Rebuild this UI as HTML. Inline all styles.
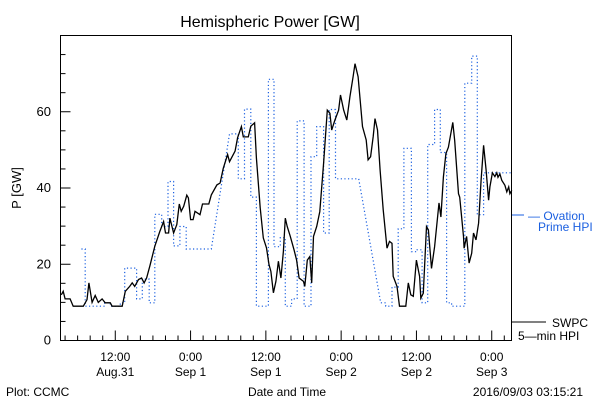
<!DOCTYPE html>
<html><head><meta charset="utf-8"><style>
body{margin:0;background:#fff;}
svg{display:block;font-family:"Liberation Sans",sans-serif;}
</style></head><body>
<svg id="chart" width="600" height="400" viewBox="0 0 600 400" xmlns="http://www.w3.org/2000/svg">
<rect width="600" height="400" fill="#fff"/>
<text x="270" y="27" font-size="16" text-anchor="middle">Hemispheric Power [GW]</text>
<text transform="translate(21,188) rotate(-90)" font-size="13" text-anchor="middle">P [GW]</text>
<text x="6" y="396" font-size="12">Plot: CCMC</text>
<text x="287" y="396" font-size="12" text-anchor="middle">Date and Time</text>
<text x="583" y="396" font-size="12" text-anchor="end">2016/09/03 03:15:21</text>
<g>
<text x="528" y="220" font-size="12" fill="#1a5fe0">— Ovation</text>
<text x="538" y="231" font-size="12" fill="#1a5fe0">Prime HPI</text>
<line x1="512" y1="215" x2="524" y2="215" stroke="#1a5fe0" stroke-width="1"/>
<line x1="512" y1="322" x2="546" y2="322" stroke="#000" stroke-width="1"/>
<text x="552" y="327" font-size="12">SWPC</text>
<text x="518" y="340" font-size="12">5—min HPI</text>
</g>
<g id="axes"></g>
<g id="series"></g>
<rect x="60.5" y="35.5" width="451" height="305" fill="none" stroke="#000" stroke-width="1"/>
</svg>
<script>
const yTicks = [0, 20, 40, 60];
const xTickHours = [-12, 0, 12, 24, 36, 48];
const xTickTime = ["12:00", "0:00", "12:00", "0:00", "12:00", "0:00"];
const xTickDate = ["Aug.31", "Sep 1", "Sep 1", "Sep 2", "Sep 2", "Sep 3"];
const swpcHours = [-20.6,-20.3,-20.0,-19.2,-18.7,-17.1,-16.5,-16.2,-15.7,-15.2,-14.7,-14.1,-13.6,-12.8,-12.5,-10.9,-10.4,-9.7,-9.3,-8.9,-8.3,-7.8,-7.4,-7.0,-6.5,-5.7,-4.9,-4.3,-4.0,-3.5,-3.3,-2.7,-2.2,-1.8,-1.5,-1.1,-0.6,-0.35,0.0,0.4,0.7,1.5,1.9,2.9,3.3,4.2,4.7,5.2,5.9,6.2,7.1,7.5,8.1,8.4,9.2,9.6,10.2,10.5,11.1,11.6,12.1,12.5,12.8,13.2,13.6,14.0,14.4,14.8,15.1,15.4,15.9,16.5,16.9,17.3,18.0,18.2,18.6,19.0,19.3,19.6,20.1,20.6,21.2,21.8,22.2,22.5,23.0,23.6,23.9,24.4,24.9,25.4,25.9,26.2,26.7,27.4,28.0,28.3,28.7,29.1,29.4,29.8,30.2,30.7,31.3,31.7,32.1,32.3,32.9,33.3,34.3,34.7,35.1,35.5,36.0,36.5,36.7,37.1,37.6,37.9,38.4,38.9,39.6,39.9,40.3,40.7,41.1,41.8,42.1,42.7,42.9,43.5,43.6,44.0,44.4,44.8,45.1,45.5,45.9,46.3,46.7,47.1,47.5,47.7,48.1,48.5,48.8,49.0,49.3,49.6,50.1,50.4,50.7,50.9,51.2];
const swpcValues = [12.0,12.9,10.9,10.9,9.0,9.0,10.7,15.1,10.0,11.8,10.0,10.9,9.9,9.9,9.0,9.0,12.9,14.2,15.1,14.2,16.0,16.4,15.1,16.4,19.5,24.7,28.6,31.2,28.2,28.2,32.1,28.2,30.4,35.8,33.9,35.2,38.1,37.4,31.7,31.7,33.9,33.0,35.8,35.8,38.2,40.8,41.3,45.1,48.8,46.9,49.7,53.2,56.1,53.4,53.4,56.2,57.1,47.9,34.8,26.9,24.3,19.9,18.1,12.5,15.5,20.8,16.4,23.4,32.1,29.9,27.3,23.7,21.1,16.4,15.5,14.2,21.1,22.0,15.1,27.3,29.9,33.8,46.5,60.4,59.6,55.2,57.8,60.4,64.4,60.4,57.8,63.9,69.2,72.6,69.2,56.1,52.6,47.4,48.2,53.5,58.2,55.2,44.7,34.3,24.2,26.0,25.5,16.8,14.2,9.0,9.0,15.1,12.0,11.6,21.1,16.8,11.1,12.4,29.9,29.0,18.9,24.6,36.1,32.4,42.9,49.0,50.7,57.2,52.4,38.5,37.6,27.3,24.2,27.3,20.3,22.9,28.2,26.4,30.8,42.1,51.2,44.7,36.8,40.3,44.0,43.0,44.0,42.8,43.7,42.0,40.7,39.0,40.3,38.5,39.4];
const ovHours = [-17.4,-16.8,-16.8,-13.7,-13.7,-12.8,-12.8,-11.2,-11.2,-10.5,-10.5,-8.6,-8.6,-7.7,-7.7,-6.6,-6.6,-5.7,-5.7,-4.6,-4.6,-3.6,-3.6,-2.7,-2.7,-1.7,-1.7,-0.7,-0.7,3.3,6.2,7.6,7.6,8.6,8.6,9.6,9.6,10.5,10.5,12.4,12.4,13.3,13.3,14.3,14.3,15.1,15.1,16.1,16.1,17.0,17.0,18.1,18.1,19.2,19.2,20.1,20.1,21.2,21.2,22.1,22.1,23.1,23.1,26.8,30.3,31.1,31.1,32.1,32.1,33.1,33.1,34.0,34.0,35.2,35.2,36.1,36.1,36.9,36.9,37.8,37.8,38.9,38.9,39.8,39.8,40.8,40.8,41.6,41.6,43.7,43.7,44.8,44.8,45.7,45.7,46.7,46.7,51.2];
const ovValues = [24,24,9,9,9.9,9.9,9,9,9.9,9.9,19,19,10.9,10.9,16.1,16.1,9.9,9.9,33.1,33.1,29.9,29.9,41.7,41.7,24.8,24.8,29.9,29.9,24,24,54.2,54.2,42.4,42.4,60.7,60.7,37.6,37.6,9,9,68.5,68.5,24.6,24.6,27,27,9,9,10.9,10.9,57.6,57.6,9,9,48.2,48.2,56.1,56.1,28.2,28.2,60.6,60.6,42.4,42.4,9.9,9.9,9,9,14,14,29.3,29.3,50.4,50.4,23.3,23.3,23.8,23.8,9.9,9.9,51.4,51.4,60.6,60.6,49.3,49.3,9.9,9.9,9,9,67.5,67.5,74.6,74.6,33,33,44,44];

const X0 = 60.5, X1 = 511.5, Y0 = 340.5, Y1 = 35.5;
const HMIN = -20.73, HMAX = 51.15, VMIN = 0, VMAX = 80;
function xScale(h){ return X0 + (h - HMIN) / (HMAX - HMIN) * (X1 - X0); }
function yScale(v){ return Y0 - (v - VMIN) / (VMAX - VMIN) * (Y0 - Y1); }
const NS = "http://www.w3.org/2000/svg";
const axes = document.getElementById('axes');
const series = document.getElementById('series');
function mk(tag, attrs, parent){ const e = document.createElementNS(NS, tag); for (const k in attrs) e.setAttribute(k, attrs[k]); parent.appendChild(e); return e; }

for (let v = 0; v <= 75; v += 5) {
  const major = v % 20 === 0;
  const t = mk('line', {x1: X0, x2: X0 + (major ? 10 : 5), y1: yScale(v), y2: yScale(v), stroke: '#000'}, axes);
  
  
}
yTicks.forEach(v => {
  const t = mk('text', {x: 51, y: yScale(v) + 4, 'font-size': 13, 'text-anchor': 'end'}, axes);
  t.textContent = String(v);
  
  
});
for (let h = -20; h <= 50; h += 2) {
  const major = h % 12 === 0;
  const t = mk('line', {x1: xScale(h), x2: xScale(h), y1: Y0, y2: Y0 - (major ? 10 : 5), stroke: '#000'}, axes);
  
  
}
xTickHours.forEach((h, i) => {
  const a = mk('text', {x: xScale(h), y: 361, 'font-size': 12, 'text-anchor': 'middle'}, axes);
  a.textContent = xTickTime[i];
  
  
  const b = mk('text', {x: xScale(h), y: 376, 'font-size': 12, 'text-anchor': 'middle'}, axes);
  b.textContent = xTickDate[i];
  
  
});

const ovPts = ovHours.map((h, i) => xScale(h).toFixed(1) + ',' + yScale(ovValues[i]).toFixed(1)).join(' ');
const ov = mk('polyline', {points: ovPts, fill: 'none', stroke: '#1a5fe0', 'stroke-width': 1.2, 'stroke-dasharray': '1.2 2.4'}, series);



const swPts = swpcHours.map((h, i) => xScale(h).toFixed(1) + ',' + yScale(swpcValues[i]).toFixed(1)).join(' ');
const sw = mk('polyline', {points: swPts, fill: 'none', stroke: '#000', 'stroke-width': 1.3}, series);


</script>
</body></html>
